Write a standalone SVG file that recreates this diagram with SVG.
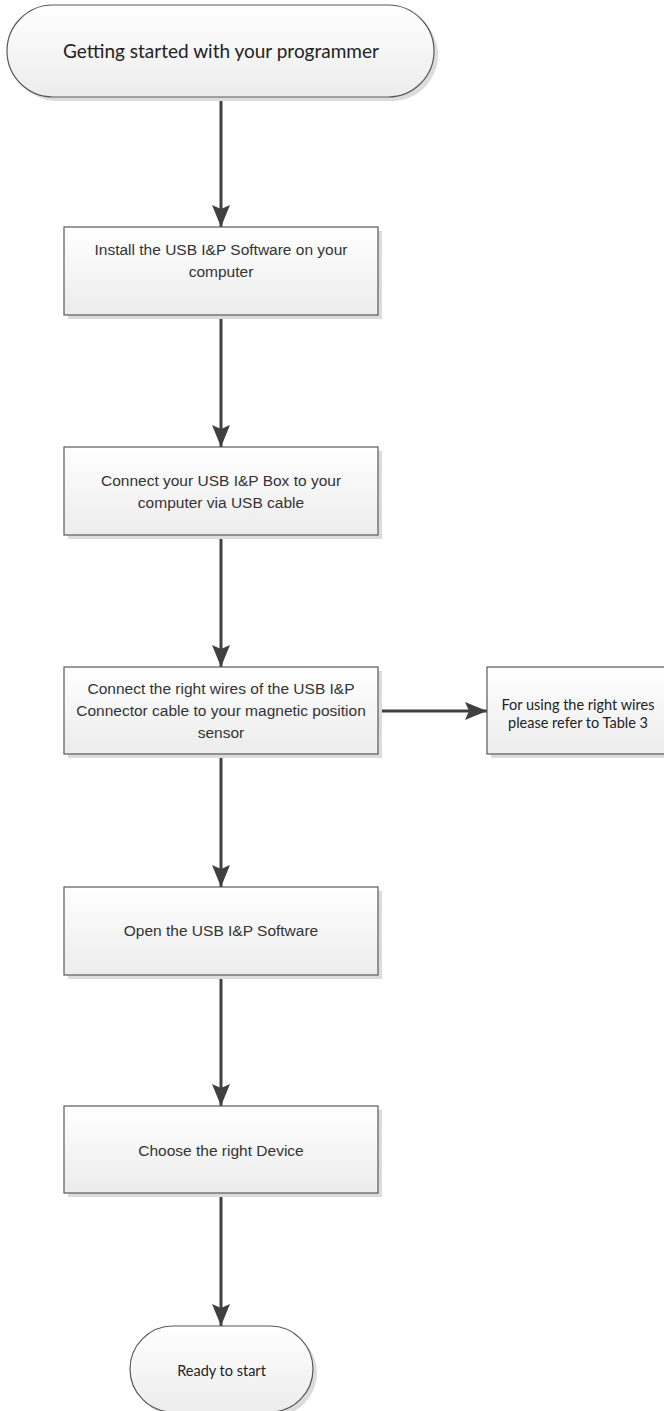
<svg xmlns="http://www.w3.org/2000/svg" width="664" height="1411" viewBox="0 0 664 1411">
<defs>
<linearGradient id="g" x1="0" y1="0" x2="0" y2="1">
<stop offset="0" stop-color="#ffffff"/>
<stop offset="1" stop-color="#ececec"/>
</linearGradient>
<marker id="ah" markerUnits="userSpaceOnUse" markerWidth="22" markerHeight="18" refX="22" refY="9" orient="auto">
<path d="M0,0 L22,9 L0,18 L4,9 Z" fill="#404040"/>
</marker>
<style>
.sh{fill:#dcdcdc}
.bx{fill:url(#g);stroke:#595959;stroke-width:1.2}
.ta{font-family:"Liberation Sans",Arial,sans-serif;font-size:15.5px;fill:#333;text-anchor:middle}
.tc{font-family:Lato,"Open Sans",sans-serif;fill:#222;text-anchor:middle}
.cn{stroke:#404040;stroke-width:3;fill:none;marker-end:url(#ah)}
</style>
</defs>
<rect width="664" height="1411" fill="#fff"/>
<g id="connectors">
<line class="cn" x1="221" y1="97" x2="221" y2="227"/>
<line class="cn" x1="221" y1="315" x2="221" y2="447"/>
<line class="cn" x1="221" y1="535" x2="221" y2="667"/>
<line class="cn" x1="221" y1="754" x2="221" y2="887"/>
<line class="cn" x1="221" y1="975" x2="221" y2="1106"/>
<line class="cn" x1="221" y1="1193" x2="221" y2="1326"/>
<line class="cn" x1="378" y1="711" x2="487" y2="711"/>
</g>
<g id="start">
<rect class="sh" x="11" y="9" width="427" height="92" rx="46"/>
<rect class="bx" x="7" y="5" width="427" height="92" rx="46"/>
<text class="tc" x="221" y="58" font-size="19">Getting started with your programmer</text>
</g>
<g id="step1">
<rect class="sh" x="68" y="231" width="314" height="88"/>
<rect class="bx" x="64" y="227" width="314" height="88"/>
<text class="ta" x="221" y="255">Install the USB I&amp;P Software on your</text>
<text class="ta" x="221" y="277">computer</text>
</g>
<g id="step2">
<rect class="sh" x="68" y="451" width="314" height="88"/>
<rect class="bx" x="64" y="447" width="314" height="88"/>
<text class="ta" x="221" y="486">Connect your USB I&amp;P Box to your</text>
<text class="ta" x="221" y="508">computer via USB cable</text>
</g>
<g id="step3">
<rect class="sh" x="68" y="671" width="314" height="87"/>
<rect class="bx" x="64" y="667" width="314" height="87"/>
<text class="ta" x="221" y="694">Connect the right wires of the USB I&amp;P</text>
<text class="ta" x="221" y="716">Connector cable to your magnetic position</text>
<text class="ta" x="221" y="738">sensor</text>
</g>
<g id="note">
<rect class="sh" x="491" y="671" width="181" height="87"/>
<rect class="bx" x="487" y="667" width="181" height="87"/>
<text class="tc" x="578" y="710" font-size="14.5">For using the right wires</text>
<text class="tc" x="578" y="728" font-size="14.5">please refer to Table 3</text>
</g>
<g id="step4">
<rect class="sh" x="68" y="891" width="314" height="88"/>
<rect class="bx" x="64" y="887" width="314" height="88"/>
<text class="ta" x="221" y="936">Open the USB I&amp;P Software</text>
</g>
<g id="step5">
<rect class="sh" x="68" y="1110" width="314" height="87"/>
<rect class="bx" x="64" y="1106" width="314" height="87"/>
<text class="ta" x="221" y="1156">Choose the right Device</text>
</g>
<g id="end">
<rect class="sh" x="134" y="1330" width="183" height="86" rx="43"/>
<rect class="bx" x="130" y="1326" width="183" height="86" rx="43"/>
<text class="tc" x="221.5" y="1376" font-size="14.5">Ready to start</text>
</g>
</svg>
